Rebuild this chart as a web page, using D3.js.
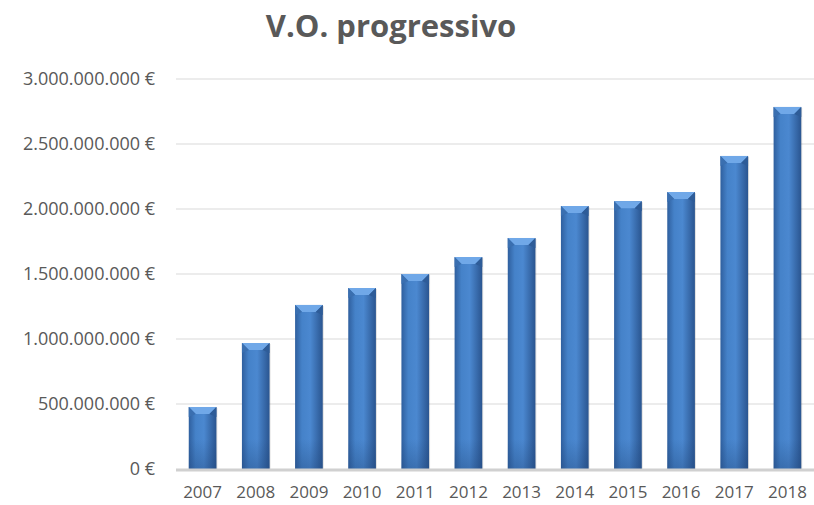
<!DOCTYPE html>
<html>
<head>
<meta charset="utf-8">
<script src="https://cdn.jsdelivr.net/npm/d3@7"></script>
<style>
  body { margin: 0; background: #fff; }
  svg { display: block; font-family: "Open Sans", sans-serif; }
</style>
</head>
<body>
<div id="chart"></div>
<script>
const years = ['2007', '2008', '2009', '2010', '2011', '2012', '2013', '2014', '2015', '2016', '2017', '2018'];
const values = [477e6, 969e6, 1262e6, 1392e6, 1500e6, 1630e6, 1777e6, 2023e6, 2060e6, 2130e6, 2408e6, 2785e6];
const yTicks = [0, 500e6, 1000e6, 1500e6, 2000e6, 2500e6, 3000e6];

const width = 814, height = 505;
const margin = { top: 79, right: 0, bottom: 36, left: 176 };

const svg = d3.select('#chart').append('svg').attr('width', width).attr('height', height);

const defs = svg.append('defs');
const grad = defs.append('linearGradient').attr('id', 'barGrad').attr('x1', 0).attr('x2', 1).attr('y1', 0).attr('y2', 0);
grad.append('stop').attr('offset', '0%').attr('stop-color', '#2f5f9e');
grad.append('stop').attr('offset', '25%').attr('stop-color', '#4582c9');
grad.append('stop').attr('offset', '55%').attr('stop-color', '#4b88d0');
grad.append('stop').attr('offset', '100%').attr('stop-color', '#2a5590');
const vgrad = defs.append('linearGradient').attr('id', 'bottomShade').attr('x1', 0).attr('x2', 0).attr('y1', 0).attr('y2', 1);
vgrad.append('stop').attr('offset', '0%').attr('stop-color', '#1f4478').attr('stop-opacity', 0);
vgrad.append('stop').attr('offset', '100%').attr('stop-color', '#1f4478').attr('stop-opacity', 0.35);

const x = d3.scaleBand().domain(years).range([margin.left, width - margin.right]).paddingInner(0.48).paddingOuter(0.24);
const y = d3.scaleLinear().domain([0, 3e9]).range([height - margin.bottom, margin.top]);

const fmt = v => d3.format(',')(v).replace(/,/g, '.') + ' €';

// gridlines
svg.append('g').selectAll('line').data(yTicks.slice(1))
  .join('line')
  .attr('x1', margin.left).attr('x2', width - margin.right)
  .attr('y1', d => y(d)).attr('y2', d => y(d))
  .attr('stroke', '#d9d9d9').attr('stroke-width', 1);

// y axis labels
svg.append('g').selectAll('text').data(yTicks)
  .join('text')
  .attr('x', 155).attr('y', d => y(d)).attr('dy', '0.35em')
  .attr('text-anchor', 'end')
  .attr('font-size', 18).attr('fill', '#595959')
  .text(fmt);

// bars
const bars = svg.append('g').selectAll('g').data(years)
  .join('g');
bars.append('rect')
  .attr('x', d => x(d) + 1).attr('y', (d, i) => y(values[i]) + 1)
  .attr('width', x.bandwidth()).attr('height', (d, i) => y(0) - y(values[i]))
  .attr('fill', '#000').attr('opacity', 0.12);
bars.append('rect')
  .attr('x', d => x(d)).attr('y', (d, i) => y(values[i]))
  .attr('width', x.bandwidth()).attr('height', (d, i) => y(0) - y(values[i]))
  .attr('fill', 'url(#barGrad)');
bars.append('rect')
  .attr('x', d => x(d)).attr('y', (d, i) => y(0) - 30)
  .attr('width', x.bandwidth()).attr('height', 30)
  .attr('fill', 'url(#bottomShade)');
// bevel on top
bars.append('path')
  .attr('d', (d, i) => {
    const x0 = x(d), x1 = x(d) + x.bandwidth(), t = y(values[i]), b = 7;
    return `M${x0},${t}L${x1},${t}L${x1 - b},${t + b}L${x0 + b},${t + b}Z`;
  })
  .attr('fill', '#70a8e8');
bars.append('path')
  .attr('d', (d, i) => {
    const x0 = x(d), t = y(values[i]), b = 7;
    return `M${x0},${t}L${x0 + b},${t + b}L${x0},${t + b + 3}Z`;
  })
  .attr('fill', '#3a6fb0');
bars.append('path')
  .attr('d', (d, i) => {
    const x1 = x(d) + x.bandwidth(), t = y(values[i]), b = 7;
    return `M${x1},${t}L${x1 - b},${t + b}L${x1},${t + b + 3}Z`;
  })
  .attr('fill', '#2e5c98');

// baseline
svg.append('line')
  .attr('x1', margin.left).attr('x2', width - margin.right)
  .attr('y1', y(0) + 1).attr('y2', y(0) + 1)
  .attr('stroke', '#d0d0d0').attr('stroke-width', 3);

// x axis labels
svg.append('g').selectAll('text').data(years)
  .join('text')
  .attr('x', d => x(d) + x.bandwidth() / 2).attr('y', 498)
  .attr('text-anchor', 'middle')
  .attr('font-size', 17).attr('fill', '#595959')
  .text(d => d);

// title
svg.append('text')
  .attr('x', 391).attr('y', 37)
  .attr('text-anchor', 'middle')
  .attr('font-size', 31).attr('font-weight', 'bold').attr('fill', '#595959')
  .text('V.O. progressivo');
</script>
</body>
</html>
